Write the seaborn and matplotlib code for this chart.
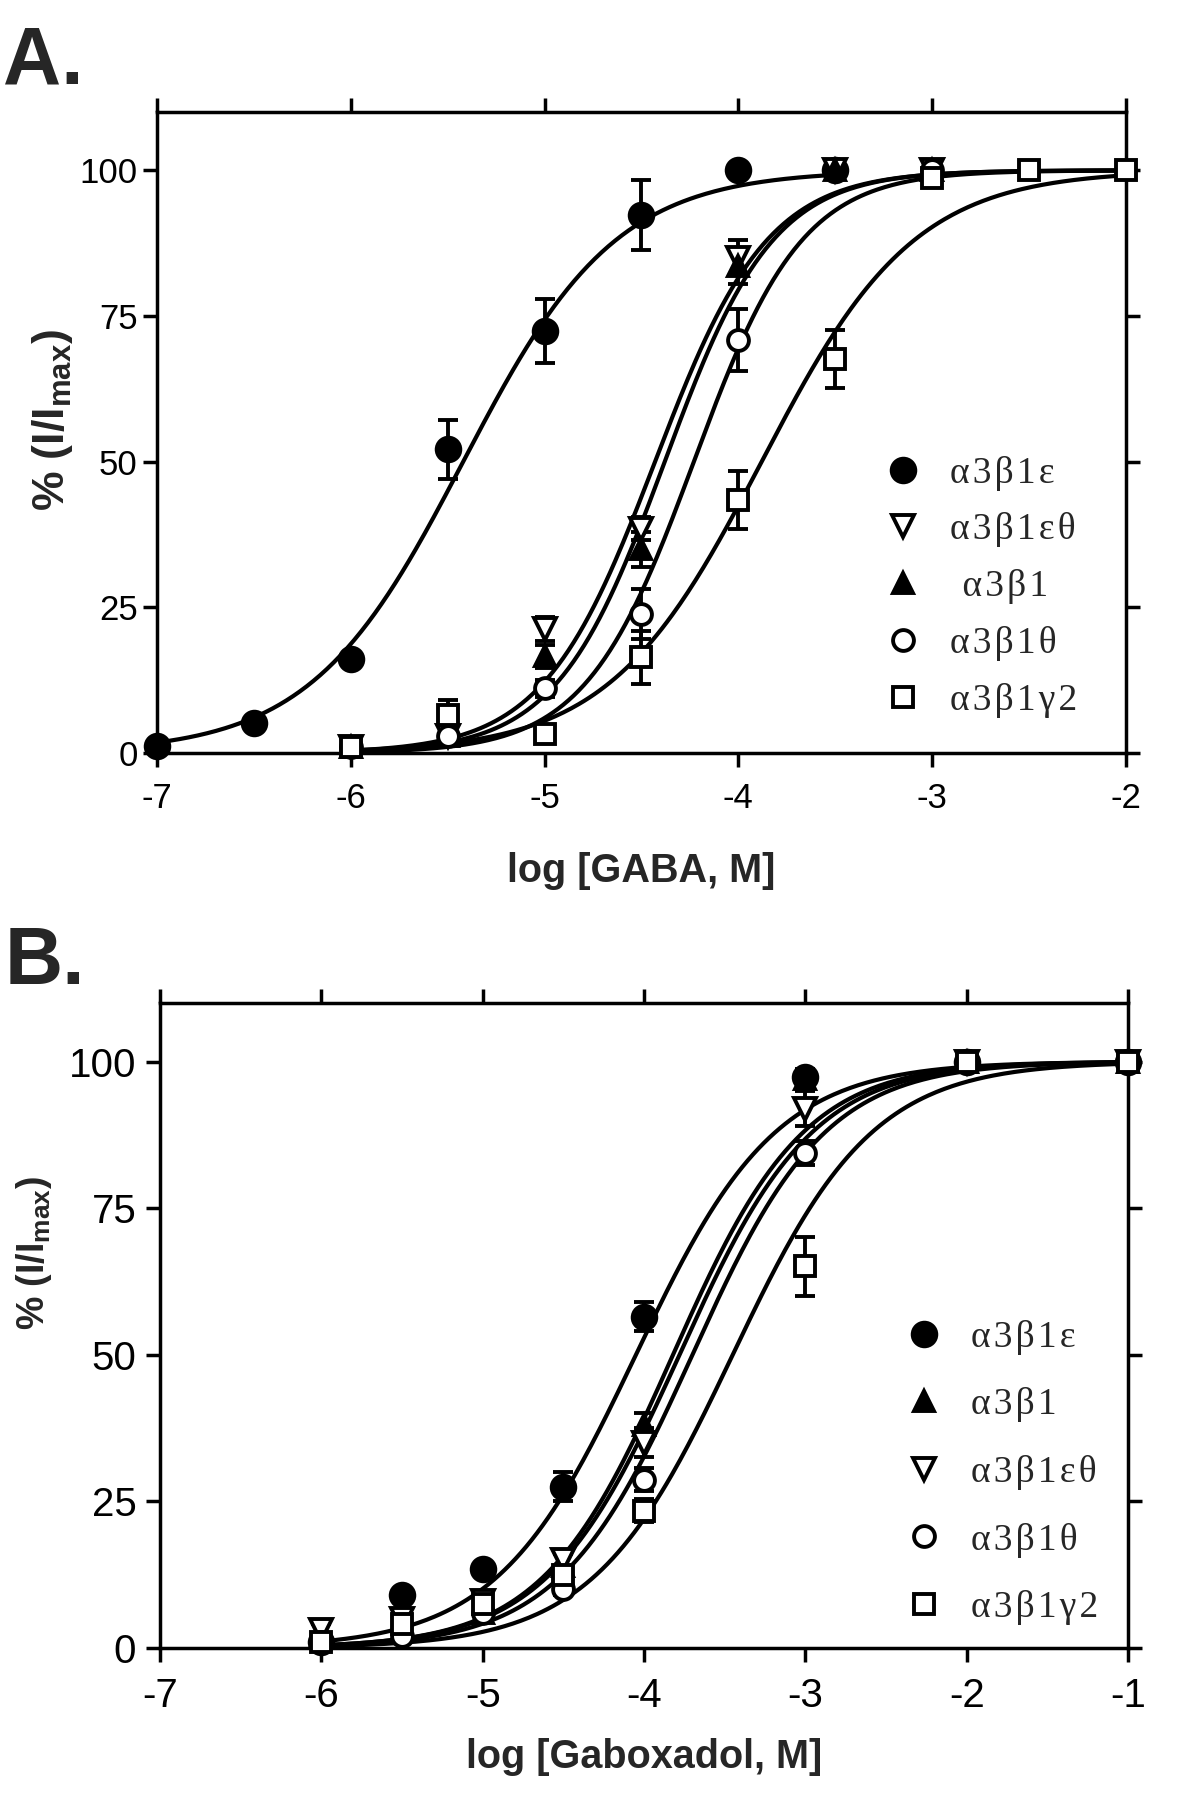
import numpy as np
import pandas as pd
import matplotlib
matplotlib.use('Agg')
import matplotlib.pyplot as plt
import seaborn as sns
from matplotlib.lines import Line2D


# ---------------------------
# 1. DATA - PANEL A (GABA)
# ---------------------------
gaba_eps_x = [-7, -6.5, -6, -5.5, -5, -4.5, -4, -3.5]
gaba_eps_y = [1.2, 5.1, 16.2, 52.1, 72.5, 92.4, 100, 100]
gaba_eps_err = [0, 0, 0, 5, 5.5, 6, 0, 0]

gaba_epsth_x = [-6, -5.5, -5, -4.5, -4, -3.5, -3]
gaba_epsth_y = [1, 3, 21.3, 38.5, 85, 100, 100]
gaba_epsth_err = [0, 0, 2, 2, 3, 0, 0]

gaba_b1_x = [-6, -5.5, -5, -4.5, -4, -3.5, -3]
gaba_b1_y = [1, 3, 16.6, 35, 83.5, 100, 100]
gaba_b1_err = [0, 0, 2, 3, 3, 0, 0]

gaba_th_x = [-6, -5.5, -5, -4.5, -4, -3]
gaba_th_y = [1, 3, 11.1, 23.8, 70.9, 100]
gaba_th_err = [0, 0, 1.5, 4.3, 5.3, 0]

gaba_g2_x = [-6, -5.5, -5, -4.5, -4, -3.5, -3, -2.5, -2]
gaba_g2_y = [1, 6.6, 3.3, 16.4, 43.4, 67.6, 98.6, 100, 100]
gaba_g2_err = [0, 2.5, 0, 4.5, 5, 5, 0, 0, 0]

# Hill fit parameters: (logEC50, slope, x start, x end)
gaba_fits = {
    'eps': (-5.42, 1.10, -7, -3.5),
    'epsth': (-4.43, 1.50, -6, -2),
    'b1': (-4.38, 1.55, -6, -2),
    'th': (-4.23, 1.55, -6, -2),
    'g2': (-3.88, 1.10, -6, -2),
}

# ---------------------------
# 2. DATA - PANEL B (GABOXADOL)
# ---------------------------
gabox_x = [-6, -5.5, -5, -4.5, -4, -3, -2, -1]

gabox_eps_y = [1, 9, 13.5, 27.5, 56.5, 97.3, 100, 100]
gabox_eps_err = [0, 0, 0, 2.5, 2.5, 1.5, 0, 0]

gabox_b1_y = [2, 3, 6, 14, 38, 97, 100, 100]
gabox_b1_err = [0, 0, 0, 0, 2, 1, 0, 0]

gabox_epsth_y = [3, 5, 8, 15, 35, 92, 100, 100]
gabox_epsth_err = [1, 1, 1, 1, 2.5, 3, 0, 0]

gabox_th_y = [1, 2, 6, 10, 28.7, 84.4, 100, 100]
gabox_th_err = [0, 0, 0, 1, 2, 2, 0, 0]

gabox_g2_y = [1, 4, 7.5, 12.5, 23.4, 65.1, 100, 100]
gabox_g2_err = [0, 1, 1, 1.5, 2, 5, 0, 0]

gabox_fits = {
    'eps': (-4.05, 1.00, -6, -1),
    'b1': (-3.82, 1.07, -6, -1),
    'epsth': (-3.78, 1.05, -6, -1),
    'th': (-3.70, 1.05, -6, -1),
    'g2': (-3.45, 1.00, -6, -1),
}

labels_A = {
    'eps': 'α3β1ε',
    'epsth': 'α3β1εθ',
    'b1': ' α3β1',
    'th': 'α3β1θ',
    'g2': 'α3β1γ2',
}
labels_B = {
    'eps': 'α3β1ε',
    'b1': 'α3β1',
    'epsth': 'α3β1εθ',
    'th': 'α3β1θ',
    'g2': 'α3β1γ2',
}

# marker styles: (marker, filled, size)
styles = {
    'eps': ('o', True, 17),
    'epsth': ('v', False, 16),
    'b1': ('^', True, 15),
    'th': ('o', False, 15),
    'g2': ('s', False, 15),
}

gaba_points = {
    'eps': (gaba_eps_x, gaba_eps_y, gaba_eps_err),
    'epsth': (gaba_epsth_x, gaba_epsth_y, gaba_epsth_err),
    'b1': (gaba_b1_x, gaba_b1_y, gaba_b1_err),
    'th': (gaba_th_x, gaba_th_y, gaba_th_err),
    'g2': (gaba_g2_x, gaba_g2_y, gaba_g2_err),
}
gabox_points = {
    'eps': (gabox_x, gabox_eps_y, gabox_eps_err),
    'b1': (gabox_x, gabox_b1_y, gabox_b1_err),
    'epsth': (gabox_x, gabox_epsth_y, gabox_epsth_err),
    'th': (gabox_x, gabox_th_y, gabox_th_err),
    'g2': (gabox_x, gabox_g2_y, gabox_g2_err),
}


# ---------------------------
# 3. STYLE
# ---------------------------
sns.set_theme(style='ticks')
plt.rcParams['font.family'] = ['Liberation Sans', 'DejaVu Sans']
plt.rcParams['axes.unicode_minus'] = False
plt.rcParams['mathtext.fontset'] = 'custom'
plt.rcParams['mathtext.bf'] = 'Liberation Sans:bold'
plt.rcParams['mathtext.rm'] = 'Liberation Sans'

LW = 3.0
EW = 2.8
HAIR = '\u200a'


def spaced(s):
    # the legend text in the figure is set with a little letter spacing
    return HAIR.join(s)


def hill_curve(fit):
    logec50, n, x0, x1 = fit
    xs = np.linspace(x0, x1, 300)
    ys = 100.0 / (1.0 + 10 ** ((logec50 - xs) * n))
    return pd.DataFrame({'x': xs, 'y': ys})


def draw_panel(ax, points, fits, order, labels, xlim, tick_fs):
    for key in order:
        curve = hill_curve(fits[key])
        sns.lineplot(data=curve, x='x', y='y', color='black', lw=LW,
                     ax=ax, zorder=2, legend=False)
    for key in order:
        x, y, err = points[key]
        marker, filled, ms = styles[key]
        ax.errorbar(x, y, yerr=err, fmt=marker, ms=ms,
                    mfc='black' if filled else 'white', mec='black',
                    mew=EW, ecolor='black', elinewidth=EW,
                    capsize=7, capthick=EW, zorder=3, clip_on=False)
    ax.set_xlim(*xlim)
    ax.set_ylim(0, 110)
    ax.set_xticks(range(xlim[0], xlim[1] + 1))
    ax.set_yticks([0, 25, 50, 75, 100])
    for s in ax.spines.values():
        s.set_linewidth(2.5)
        s.set_color('black')
        s.set_visible(True)
    ax.tick_params(direction='out', length=10, width=2.5, colors='black',
                   top=True, right=True, labelsize=tick_fs)
    ax.tick_params(axis='x', pad=11)
    ax.set_xlabel('')
    ax.set_ylabel('')

    handles = []
    for key in order:
        marker, filled, ms = styles[key]
        handles.append(Line2D([], [], ls='none', marker=marker, ms=ms,
                              mfc='black' if filled else 'white',
                              mec='black', mew=EW, label=spaced(labels[key])))
    return handles


fig = plt.figure(figsize=(12, 17.93), dpi=100)
axA = fig.add_axes([0.1308, 0.580, 0.8075, 0.3575])
axB = fig.add_axes([0.1333, 0.0809, 0.8067, 0.3597])

leg_font = {'family': ['Liberation Serif', 'DejaVu Serif'], 'size': 27}

# ---------------------------
# 4. PANEL A
# ---------------------------
orderA = ['eps', 'epsth', 'b1', 'th', 'g2']
hA = draw_panel(axA, gaba_points, gaba_fits, orderA, labels_A, (-7, -2), 25)
axA.tick_params(axis='y', pad=4)
axA.set_xlabel('log [GABA, M]', fontsize=28.5, fontweight='bold')
axA.xaxis.set_label_coords(0.5, -0.155)
axA.set_ylabel(r'% (I/I$_{\mathbf{max}}$)', fontsize=32, fontweight='bold')
axA.yaxis.set_label_coords(-0.085, 0.52)
axA.legend(handles=hA, loc='upper left', bbox_to_anchor=(0.751, 0.464),
           frameon=False, handlelength=0.96, handletextpad=0.77,
           labelspacing=0.58, borderpad=0, borderaxespad=0, prop=leg_font)

# ---------------------------
# 5. PANEL B
# ---------------------------
orderB = ['eps', 'b1', 'epsth', 'th', 'g2']
hB = draw_panel(axB, gabox_points, gabox_fits, orderB, labels_B, (-7, -1), 29)
axB.tick_params(axis='y', pad=7)
axB.set_xlabel('log [Gaboxadol, M]', fontsize=28.5, fontweight='bold')
axB.xaxis.set_label_coords(0.5, -0.14)
axB.set_ylabel(r'% (I/I$_{\mathbf{max}}$)', fontsize=27, fontweight='bold')
axB.yaxis.set_label_coords(-0.109, 0.612)
axB.legend(handles=hB, loc='upper left', bbox_to_anchor=(0.771, 0.509),
           frameon=False, handlelength=0.96, handletextpad=0.77,
           labelspacing=0.87, borderpad=0, borderaxespad=0, prop=leg_font)

# panel letters
fig.text(0.0025, 1 - 83 / 1793, 'A.', fontsize=58, fontweight='bold',
         va='baseline', ha='left')
fig.text(0.004, 1 - 984 / 1793, 'B.', fontsize=58, fontweight='bold',
         va='baseline', ha='left')

fig.savefig('out.png', dpi=100, facecolor='white')
